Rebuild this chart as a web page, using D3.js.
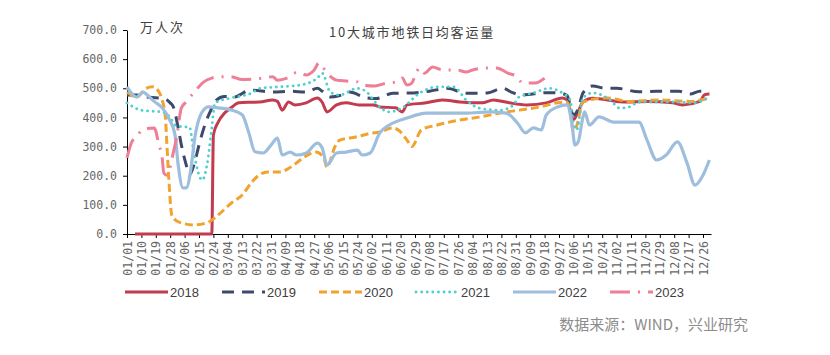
<!DOCTYPE html>
<html><head><meta charset="utf-8">
<script src="https://cdn.jsdelivr.net/npm/d3@7/dist/d3.min.js"></script>
<style>body{margin:0;background:#fff}</style>
</head><body>
<svg id="c" width="830" height="355"></svg>
<script>
// ---- data (x = day of year, 0 = 01/01; y = 万人次) ----
const tickLabels = ["01/01","01/10","01/19","01/28","02/06","02/15","02/24","03/04","03/13","03/22","03/31","04/09","04/18","04/27","05/06","05/15","05/24","06/02","06/11","06/20","06/29","07/08","07/17","07/26","08/04","08/13","08/22","08/31","09/09","09/18","09/27","10/06","10/15","10/24","11/02","11/11","11/20","11/29","12/08","12/17","12/26"];
const yTicks = [0,100,200,300,400,500,600,700];
const years = ["2018","2019","2020","2021","2022","2023"];

const s2018 = [[5,0],[53,0],[54,340],[57,384],[61,415],[65,433],[70,450],[77,452],[83,453],[91,460],[94,455],[97,425],[101,453],[105,443],[112,450],[119,467],[122,452],[125,419],[131,443],[137,450],[145,443],[154,443],[158,436],[168,433],[172,419],[175,443],[187,450],[197,460],[208,453],[222,450],[229,460],[239,450],[250,443],[262,450],[272,467],[275,460],[279,392],[282,420],[285,453],[291,466],[310,453],[325,455],[341,450],[347,443],[358,455],[361,478],[364,480]];
const s2019 = [[0,477],[6,477],[12,470],[16,468],[20,467],[24,463],[27,450],[29,436],[32,364],[34,305],[37,237],[39,202],[42,240],[45,305],[49,380],[52,420],[55,455],[61,472],[67,470],[77,494],[91,487],[102,490],[112,487],[119,500],[122,490],[127,470],[133,475],[139,487],[150,467],[156,465],[166,483],[179,484],[189,490],[200,500],[212,483],[225,484],[235,500],[241,485],[247,477],[262,485],[270,484],[275,475],[279,408],[282,430],[285,484],[291,508],[299,500],[306,500],[320,488],[331,490],[345,490],[352,480],[358,490],[364,487]];
const s2020 = [[0,487],[6,470],[12,500],[16,505],[20,487],[22,460],[24,400],[25,300],[26,202],[28,65],[31,45],[34,38],[42,31],[51,41],[59,75],[65,105],[72,134],[78,178],[82,200],[88,213],[96,213],[101,225],[106,244],[110,261],[118,281],[123,261],[125,230],[130,300],[133,322],[143,333],[152,345],[158,350],[166,364],[170,355],[175,322],[178,300],[184,357],[194,374],[208,391],[220,401],[233,415],[245,425],[258,436],[269,450],[275,453],[277,420],[279,350],[281,370],[285,453],[300,467],[314,455],[333,460],[352,455],[364,467]];
const s2021 = [[0,450],[4,436],[8,426],[14,422],[22,419],[27,400],[30,374],[35,368],[39,367],[42,271],[47,185],[50,237],[53,364],[55,450],[65,467],[78,484],[83,500],[95,505],[108,511],[119,535],[122,552],[127,487],[133,477],[144,500],[152,475],[154,460],[164,419],[172,433],[183,484],[194,505],[204,505],[212,460],[220,432],[233,425],[241,440],[245,470],[254,484],[264,500],[272,484],[277,460],[279,380],[281,357],[285,467],[291,484],[302,460],[308,432],[314,436],[320,453],[341,453],[354,450],[364,470]];
const s2022 = [[0,505],[6,470],[10,487],[14,470],[17,455],[22,433],[26,398],[30,340],[32,237],[35,158],[37,158],[40,226],[42,316],[47,419],[51,436],[57,433],[65,426],[72,409],[76,350],[80,282],[85,278],[90,305],[94,329],[97,271],[102,281],[106,271],[112,278],[119,312],[122,295],[125,237],[131,278],[137,281],[144,288],[147,271],[152,278],[158,347],[164,374],[175,398],[187,415],[200,415],[212,415],[227,419],[237,415],[244,381],[249,347],[254,364],[259,357],[262,408],[269,436],[275,443],[278,381],[280,305],[282,316],[285,402],[286,419],[289,374],[295,402],[304,384],[310,384],[320,384],[325,322],[331,254],[337,271],[344,316],[350,244],[355,168],[360,202],[364,254]];
const s2023 = [[0,261],[3,316],[6,333],[10,360],[17,364],[20,305],[22,261],[23,209],[25,202],[29,281],[31,330],[34,433],[37,453],[42,487],[48,522],[53,535],[59,540],[65,540],[72,530],[79,532],[86,535],[91,540],[94,528],[100,535],[107,556],[112,546],[117,563],[120,587],[125,552],[131,528],[137,525],[144,522],[147,511],[155,508],[162,518],[169,522],[172,535],[175,511],[178,518],[181,556],[183,570],[186,552],[191,573],[197,563],[206,563],[212,556],[216,563],[225,570],[231,570],[238,552],[244,540],[247,518],[255,518],[261,535]];

// ---- styles ----
const series = [
  {name: years[0], data: s2018, color: "#C23B4E", w: 3,   dash: null,          cap: "butt"},
  {name: years[1], data: s2019, color: "#3D4A6B", w: 3,   dash: "12,8",        cap: "butt"},
  {name: years[2], data: s2020, color: "#F0A32E", w: 3,   dash: "8,4",         cap: "butt"},
  {name: years[3], data: s2021, color: "#4FCFCF", w: 2.8, dash: "0.1,5.5",     cap: "round"},
  {name: years[4], data: s2022, color: "#9DBEDC", w: 3.2, dash: null,          cap: "butt"},
  {name: years[5], data: s2023, color: "#EE7F97", w: 3,   dash: "20,8,2,8",    cap: "butt"}
];

const svg = d3.select("#c");
const x = d3.scaleLinear().domain([0,365]).range([127,711]);
const y = d3.scaleLinear().domain([0,700]).range([234,30]);
const monoFont = "'DejaVu Sans Mono', monospace";

// y axis
const yAxis = svg.append("g").attr("transform","translate(127,0)")
  .call(d3.axisLeft(y).tickValues(yTicks).tickFormat(d3.format(".1f")).tickSize(4).tickSizeOuter(0));
yAxis.select(".domain").attr("stroke","#000").attr("stroke-width",1);
yAxis.selectAll(".tick line").attr("stroke","#000");
yAxis.selectAll("text").attr("x",-10).style("font-family",monoFont).style("font-size","11.5px").attr("fill","#666");

// x axis
const tickDays = tickLabels.map((_,i)=>i*9);
const xAxis = svg.append("g").attr("transform","translate(0,234)")
  .call(d3.axisBottom(x).tickValues(tickDays).tickFormat((d,i)=>tickLabels[i]).tickSize(4).tickSizeOuter(0));
xAxis.select(".domain").attr("stroke","#000").attr("stroke-width",1);
xAxis.selectAll(".tick line").attr("stroke","#000");
xAxis.selectAll("text")
  .attr("transform","rotate(-90)").attr("x",-7).attr("y",0).attr("dy","0.35em")
  .style("text-anchor","end").style("font-family",monoFont).style("font-size","11.5px").attr("fill","#666");

// lines
const line = d3.line().x(d=>x(d[0])).y(d=>y(d[1])).curve(d3.curveMonotoneX);
series.forEach(s=>{
  svg.append("path").datum(s.data).attr("d",line)
    .attr("fill","none").attr("stroke",s.color).attr("stroke-width",s.w)
    .attr("stroke-dasharray",s.dash).attr("stroke-linecap",s.cap).attr("stroke-linejoin","round");
});

// title & unit
svg.append("text").attr("x",412).attr("y",37).attr("text-anchor","middle")
  .style("font-family","'Noto Sans CJK SC', sans-serif").style("font-size","13px").style("letter-spacing","1.8px")
  .attr("fill","#404040").text("10大城市地铁日均客运量");
svg.append("text").attr("x",140).attr("y",32)
  .style("font-family","'Noto Sans CJK SC', sans-serif").style("font-size","13px").style("letter-spacing","2px")
  .attr("fill","#404040").text("万人次");

// legend
const lg = svg.append("g");
series.forEach((s,i)=>{
  const x0 = 125 + i*97;
  lg.append("line").attr("x1",x0).attr("x2",x0+43).attr("y1",292).attr("y2",292)
    .attr("stroke",s.color).attr("stroke-width",s.w).attr("stroke-dasharray",s.dash).attr("stroke-linecap",s.cap);
  lg.append("text").attr("x",x0+45).attr("y",292).attr("dy","0.35em")
    .style("font-family","'Liberation Sans', Arial, sans-serif").style("font-size","13px")
    .attr("fill","#404040").text(s.name);
});

// source
svg.append("text").attr("x",748).attr("y",330).attr("text-anchor","end")
  .style("font-family","'Noto Sans CJK SC', sans-serif").style("font-size","15px")
  .attr("fill","#8C8C8C").text("数据来源：WIND，兴业研究");
</script>
</body></html>
